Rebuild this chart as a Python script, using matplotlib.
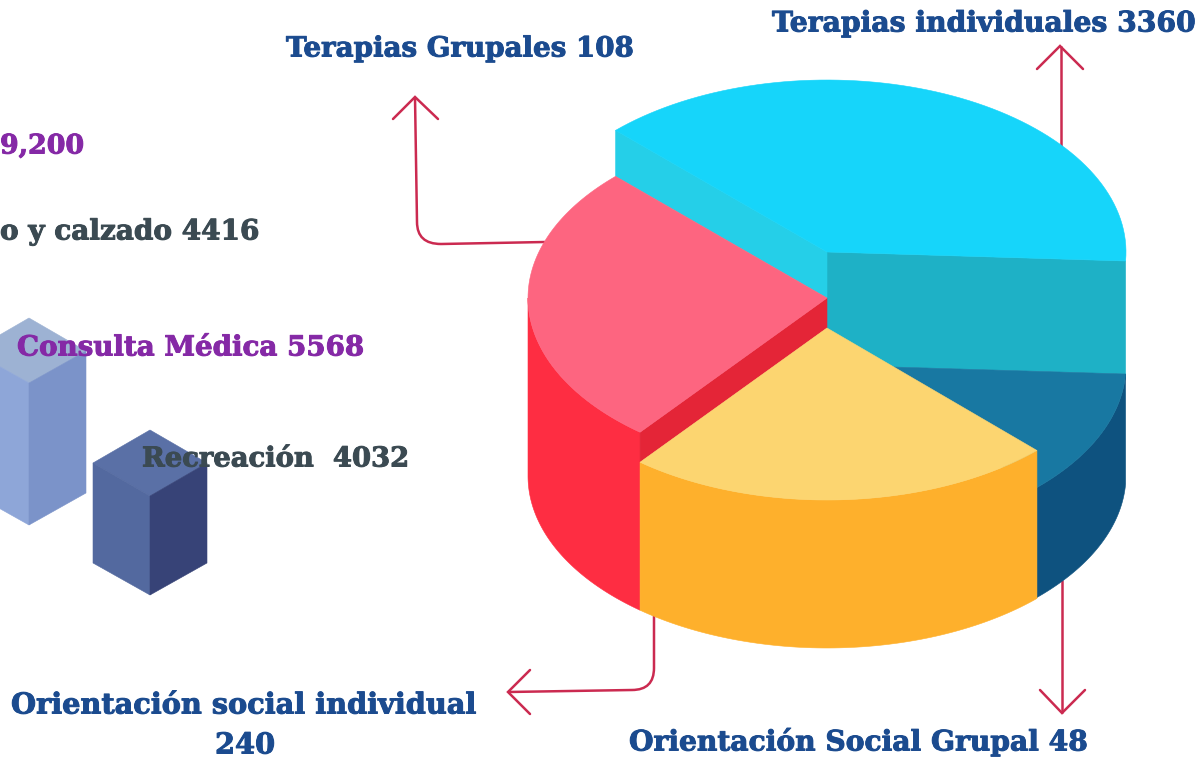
import numpy as np
from matplotlib import pyplot as plt
from matplotlib.patches import Polygon, PathPatch
from matplotlib.path import Path
from matplotlib import patheffects

# labels
categories = ['Terapias individuales', 'Terapias Grupales', 'Orientación social individual', 'Orientación Social Grupal']
values = [3360, 108, 240, 48]
side_labels = ['9,200', 'o y calzado 4416', 'Consulta Médica 5568', 'Recreación  4032']

# drawn size of each slice in degrees (not proportional to the values in the source)
slice_names = ['cyan', 'blue', 'yellow', 'red']
slice_spans = [138.0, 42.4, 83.3, 96.3]

BLUE = '#1b4b8f'
PURPLE = '#8529a6'
GRAY = '#3b4a52'
ARROW = '#cb2a50'
FONT = 'DejaVu Serif'

fig = plt.figure(figsize=(12.02, 7.65), dpi=100)
ax = fig.add_axes([0, 0, 1, 1])
ax.set_xlim(0, 1202)
ax.set_ylim(765, 0)
ax.axis('off')

cx, a, b = 827, 299, 172


def arc(cy, t1, t2):
	t = np.radians(np.linspace(t1, t2, 80))
	return np.column_stack([cx + a * np.cos(t), cy + b * np.sin(t)])


def face(points, color, z):
	ax.add_patch(Polygon(points, closed=True, facecolor=color, edgecolor=color, linewidth=0.4, zorder=z))


def wedge(cy, t1, t2, color, z):
	face(np.vstack([[cx, cy], arc(cy, t1, t2)]), color, z)


def rim(cy, h, t1, t2, color, z):
	top = arc(cy, t1, t2)
	bottom = arc(cy + h, t2, t1)
	face(np.vstack([top, bottom]), color, z)


# slice edges, walking clockwise from the cyan start
cyan_start = -135.0
cyan_end = cyan_start + slice_spans[0]
blue_end = cyan_end + slice_spans[1]
yellow_end = blue_end + slice_spans[2]
red_end = yellow_end + slice_spans[3]

# cyan block with its inner walls
wedge(252, cyan_start, cyan_end, '#16d5fa', 5)
p = arc(252, cyan_start, cyan_start)[0]
face([p, (cx, 252), (cx, 298), (p[0], p[1] + 46)], '#25cfe8', 4)
q = arc(252, cyan_end, cyan_end)[0]
face([(cx, 252), q, (q[0], q[1] + 113), (cx, 365)], '#1eb1c6', 3)

# dark blue
wedge(365, cyan_end, blue_end, '#1878a2', 4)
rim(365, 110, cyan_end, blue_end, '#0e527f', 3)

# red
wedge(298, yellow_end, red_end, '#fd6580', 6)
rim(298, 178, yellow_end, 180, '#fe2d42', 4)
r = arc(298, yellow_end, yellow_end)[0]
face([r, (cx, 298), (cx, 328), (r[0], r[1] + 30)], '#e42537', 5)

# yellow
wedge(328, blue_end, yellow_end, '#fcd570', 7)
rim(328, 148, blue_end, yellow_end, '#feb02c', 6)


def arrow(shaft, head):
	codes = [Path.MOVETO] + [Path.LINETO] * (len(shaft) - 1)
	if len(shaft) == 5:
		codes = [Path.MOVETO, Path.LINETO, Path.CURVE3, Path.CURVE3, Path.LINETO]
	ax.add_patch(PathPatch(Path(shaft, codes), facecolor='none', edgecolor=ARROW, linewidth=1.8, zorder=2))
	xs, ys = zip(*head)
	ax.plot(xs, ys, color=ARROW, linewidth=1.8, zorder=2, solid_capstyle='round', solid_joinstyle='miter')


arrow([(545, 242), (441, 244), (417, 244), (417, 222), (415, 97)], [(393, 119), (415, 97), (438, 119)])
arrow([(1061, 150), (1061, 46)], [(1037, 69), (1060, 46), (1083, 69)])
arrow([(654, 610), (654, 668), (654, 690), (632, 690), (508, 692)], [(530, 670), (508, 692), (530, 714)])
arrow([(1062, 580), (1062, 713)], [(1040, 690), (1062, 713), (1085, 690)])

# isometric boxes on the left
face([(29, 318), (86, 351), (29, 383), (-28, 351)], '#9db2d3', 3)
face([(-28, 351), (29, 383), (29, 525), (-28, 493)], '#8ea6d8', 3)
face([(29, 383), (86, 351), (86, 493), (29, 525)], '#7b93c9', 3)
face([(150, 430), (207, 463), (150, 496), (93, 463)], '#5a70a6', 3)
face([(93, 463), (150, 496), (150, 595), (93, 563)], '#53699f', 3)
face([(150, 496), (207, 463), (207, 563), (150, 595)], '#374377', 3)

fig.canvas.draw()
renderer = fig.canvas.get_renderer()


def label(s, x0, x1, y, color):
	t = ax.text(x0, y, s, color=color, family=FONT, weight='bold', fontsize=20, ha='left', va='center', zorder=10)
	w = t.get_window_extent(renderer).width
	t.set_fontsize(20 * (x1 - x0) / w)
	t.set_path_effects([patheffects.withStroke(linewidth=0.7, foreground=color)])


label(f'{categories[0]} {values[0]}', 772, 1196, 24, BLUE)
label(f'{categories[1]} {values[1]}', 286, 634, 49, BLUE)
label(categories[2], 11, 477, 705, BLUE)
label(str(values[2]), 215, 275, 745, BLUE)
label(f'{categories[3]} {values[3]}', 629, 1088, 742, BLUE)
label(side_labels[0], 0, 84, 146, PURPLE)
label(side_labels[1], 0, 259, 232, GRAY)
label(side_labels[2], 17, 364, 348, PURPLE)
label(side_labels[3], 142, 409, 459, GRAY)

fig.savefig('out.png', dpi=100)
